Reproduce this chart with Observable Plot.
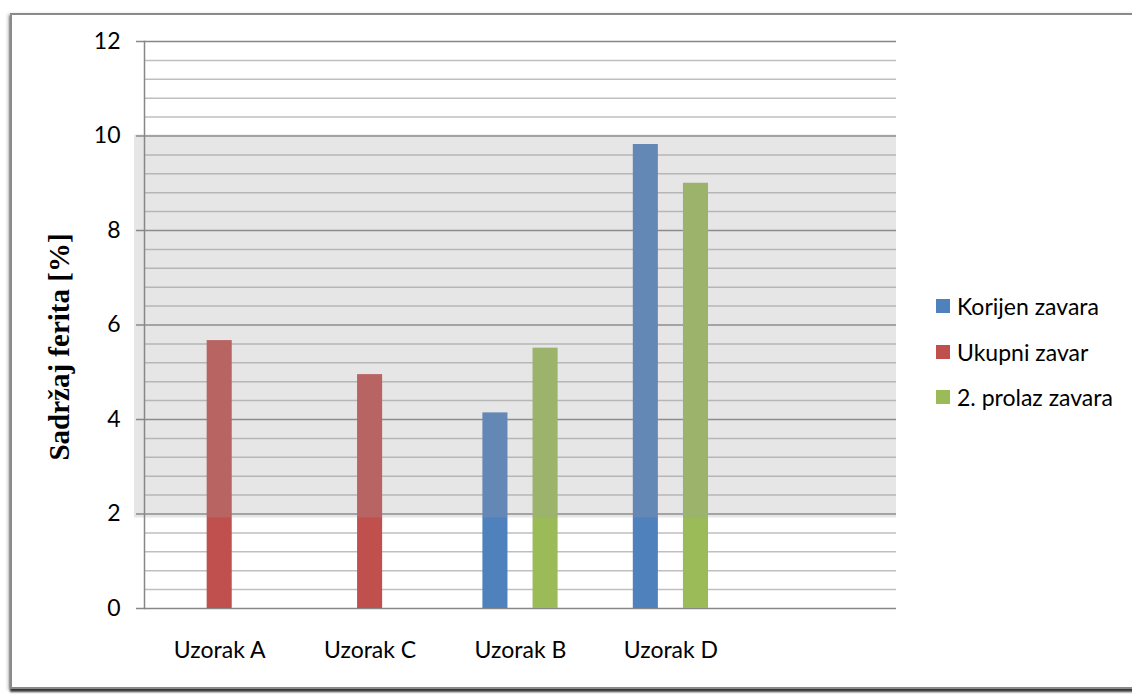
<!DOCTYPE html>
<html>
<head>
<meta charset="utf-8">
<script src="https://cdn.jsdelivr.net/npm/d3@7"></script>
<script src="https://cdn.jsdelivr.net/npm/@observablehq/plot@0.6"></script>
<style>
  body { margin: 0; background: #fff; }
  #wrap { position: relative; width: 1132px; height: 694px; overflow: hidden; background: #fff; }
  #frame { position: absolute; left: 10px; top: 13px; width: 1140px; height: 672px;
           border: 2px solid #8a8a8a;
           box-shadow: 0 3px 2px rgba(0,0,0,0.75), -2px 1px 3px rgba(0,0,0,0.25); }
  #chart { position: absolute; left: 0; top: 0; }
  #ytitle { position: absolute; left: 59px; top: 347px; transform: translate(-50%, -50%) rotate(-90deg);
            white-space: nowrap; font: bold 29px "Liberation Serif", "Times New Roman", serif; color: #000; }
  #legend { position: absolute; left: 936px; top: 0; font: 23px Lato, sans-serif; color: #000; }
  .li { position: absolute; left: 0; white-space: nowrap; display: flex; align-items: center; transform: translateY(-50%); }
  .sw { width: 14px; height: 14px; margin-right: 7px; }
</style>
</head>
<body>
<div id="wrap">
  <div id="frame"></div>
  <div id="chart"></div>
  <div id="ytitle"></div>
  <div id="legend"></div>
</div>
<script>
// ---- data ----
const categories = ["Uzorak A", "Uzorak C", "Uzorak B", "Uzorak D", ""];
const series = ["Korijen zavara", "Ukupni zavar", "2. prolaz zavara"];
const seriesColors = ["#4f81bd", "#c0504d", "#9bbb59"];
const korijenZavara = [null, null, 4.14, 9.82, null];
const ukupniZavar = [5.67, 4.95, null, null, null];
const prolazZavara = [null, null, 5.51, 9.0, null];
const yTicks = [0, 2, 4, 6, 8, 10, 12];
const yMinorStep = 0.4;
const bandRange = [2, 10];
const yTitle = "Sadržaj ferita [%]";

// ---- derived tables (cluster layout: present bars centred in each category) ----
const values = [korijenZavara, ukupniZavar, prolazZavara];
const barFrac = 1 / 6;   // bar width as a fraction of a category
const bars = categories.flatMap((c, i) => {
  const present = series.map((s, j) => ({cat: c, series: s, value: values[j][i]})).filter(d => d.value != null);
  const n = present.length;
  return present.map((d, k) => {
    const center = i + 0.5 + (k - (n - 1) / 2) * 2 * barFrac;
    return {...d, x1: center - barFrac / 2, x2: center + barFrac / 2};
  });
});
const labels = categories.map((c, i) => ({x: i + 0.5, label: c}));
const minor = d3.range(0, 12 + 1e-9, yMinorStep).map(v => +v.toFixed(2)).filter(v => !yTicks.some(t => Math.abs(t - v) < 1e-6));

const chart = Plot.plot({
  width: 1132,
  height: 694,
  marginLeft: 144,
  marginRight: 236,
  marginTop: 41,
  marginBottom: 86,
  style: {fontFamily: "Lato, sans-serif", fontSize: "23px", background: "transparent", color: "#000"},
  x: {type: "linear", domain: [0, categories.length], axis: null},
  y: {domain: [0, 12], axis: null},
  color: {domain: series, range: seriesColors},
  marks: [
    Plot.ruleY(minor, {stroke: "#bfbfbf", strokeWidth: 1.5}),
    Plot.ruleY(yTicks, {stroke: "#878787", strokeWidth: 1.5}),
    Plot.rectY(bars, {x1: "x1", x2: "x2", y1: () => 0, y2: "value", fill: "series"}),
    Plot.rectY([{y1: bandRange[0], y2: bandRange[1]}], {y1: "y1", y2: "y2", fill: "#9f9f9f", fillOpacity: 0.26, insetLeft: -10, insetBottom: -4, insetTop: -1}),
    Plot.axisY(yTicks, {tickSize: 8, tickPadding: 16, stroke: "#878787", strokeWidth: 1.5, fill: "#000", fontSize: 23, label: null}),
    Plot.frame({anchor: "left", stroke: "#878787", strokeWidth: 1.5}),
    Plot.text(labels, {x: "x", y: () => 0, text: "label", dy: 42, fontSize: 23, fill: "#000"})
  ]
});
document.getElementById("chart").appendChild(chart);
document.getElementById("ytitle").textContent = yTitle;

const legendTops = [306, 352, 397];
const legend = document.getElementById("legend");
series.forEach((s, i) => {
  const row = document.createElement("div");
  row.className = "li";
  row.style.top = legendTops[i] + "px";
  const sw = document.createElement("div");
  sw.className = "sw";
  sw.style.background = seriesColors[i];
  const t = document.createElement("span");
  t.textContent = s;
  row.appendChild(sw); row.appendChild(t);
  legend.appendChild(row);
});
</script>
</body>
</html>
